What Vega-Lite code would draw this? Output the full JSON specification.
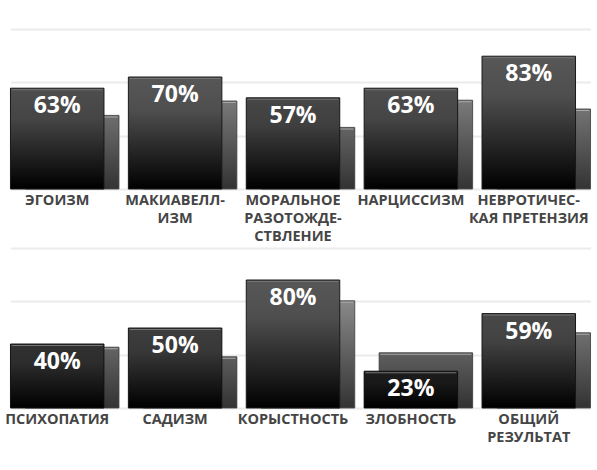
{
  "$schema": "https://vega.github.io/schema/vega-lite/v6.json",
  "padding": {"left": 4.5, "top": 29, "right": 0, "bottom": 0},
  "bounds": "flush",
  "spacing": 59,
  "background": "white",
  "data": {
    "values": [
      {"row": 1, "name": "ЭГОИЗМ", "value": 0.63, "compare": 0.46},
      {"row": 1, "name": "МАКИАВЕЛЛ-\nИЗМ", "value": 0.70, "compare": 0.55},
      {"row": 1, "name": "МОРАЛЬНОЕ\nРАЗОТОЖДЕ-\nСТВЛЕНИЕ", "value": 0.57, "compare": 0.385},
      {"row": 1, "name": "НАРЦИССИЗМ", "value": 0.63, "compare": 0.555},
      {"row": 1, "name": "НЕВРОТИЧЕС-\nКАЯ ПРЕТЕНЗИЯ", "value": 0.83, "compare": 0.50},
      {"row": 2, "name": "ПСИХОПАТИЯ", "value": 0.40, "compare": 0.38},
      {"row": 2, "name": "САДИЗМ", "value": 0.50, "compare": 0.32},
      {"row": 2, "name": "КОРЫСТНОСТЬ", "value": 0.80, "compare": 0.67},
      {"row": 2, "name": "ЗЛОБНОСТЬ", "value": 0.23, "compare": 0.345},
      {"row": 2, "name": "ОБЩИЙ\nРЕЗУЛЬТАТ", "value": 0.59, "compare": 0.47}
    ]
  },
  "vconcat": [
    {
      "width": 580,
      "height": 160,
      "transform": [{"filter": "datum.row == 1"}],
      "encoding": {
        "x": {
          "field": "name", "type": "nominal", "sort": null,
          "scale": {"paddingInner": 0.08, "paddingOuter": 0},
          "axis": {
            "title": null, "domain": false, "ticks": false, "labelAngle": 0,
            "labelFont": "Open Sans", "labelFontSize": 14.5, "labelFontWeight": "bold",
            "labelColor": "#454545", "labelLineHeight": 18, "labelPadding": 4,
            "labelOffset": -7.5, "labelLimit": 0, "labelOverlap": false, "labelBound": false,
            "labelExpr": "split(datum.label, '\\n')"
          }
        }
      },
      "layer": [
        {
          "mark": {"type": "bar", "width": 93.5, "xOffset": 7.5, "stroke": "#5c5c5c", "strokeWidth": 1,
            "fill": {"gradient": "linear", "x1": 0, "y1": 0, "x2": 0, "y2": 1,
              "stops": [{"offset": 0, "color": "#b4b4b4"}, {"offset": 1, "color": "#333333"}]}},
          "encoding": {
            "y": {"field": "compare", "type": "quantitative", "scale": {"domain": [0, 1], "nice": false},
              "axis": {"values": [0, 0.33333, 0.66667, 1], "grid": true, "gridColor": "#ebebeb", "gridWidth": 2,
                "labels": false, "ticks": false, "domain": false, "title": null}}
          }
        },
        {
          "mark": {"type": "bar", "width": 93.5, "xOffset": 7.5, "fill": "#333333"},
          "encoding": {
            "y": {"field": "compare", "type": "quantitative"},
            "opacity": {"field": "compare", "type": "quantitative", "scale": {"domain": [0, 1], "range": [1, 0]}, "legend": null}
          }
        },
        {
          "mark": {"type": "tick", "size": 91, "thickness": 1, "xOffset": 7.5, "yOffset": 1.5, "color": "#a8a8a8", "opacity": 1},
          "encoding": {"y": {"field": "compare", "type": "quantitative"}}
        },
        {
          "mark": {"type": "bar", "width": 93.5, "xOffset": -7.5, "stroke": "#1a1a1a", "strokeWidth": 1,
            "fill": {"gradient": "linear", "x1": 0, "y1": 0, "x2": 0, "y2": 1,
              "stops": [{"offset": 0, "color": "#575757"}, {"offset": 0.3, "color": "#4e4e4e"}, {"offset": 1, "color": "#000000"}]}},
          "encoding": {"y": {"field": "value", "type": "quantitative"}}
        },
        {
          "mark": {"type": "bar", "width": 93.5, "xOffset": -7.5, "fill": "#000000"},
          "encoding": {
            "y": {"field": "value", "type": "quantitative"},
            "fillOpacity": {"field": "value", "type": "quantitative", "scale": {"domain": [0, 0.7], "range": [1, 0], "clamp": true}, "legend": null}
          }
        },
        {
          "mark": {"type": "tick", "size": 91, "thickness": 1, "xOffset": -7.5, "yOffset": 1.5, "color": "#747474", "opacity": 1},
          "encoding": {"y": {"field": "value", "type": "quantitative"}}
        },
        {
          "mark": {"type": "text", "xOffset": -7.5, "dy": 25, "baseline": "alphabetic", "align": "center",
            "font": "Open Sans", "fontSize": 23, "fontWeight": "bold", "color": "white"},
          "encoding": {
            "y": {"field": "value", "type": "quantitative"},
            "text": {"field": "value", "type": "quantitative", "format": ".0%"}
          }
        }
      ]
    },
    {
      "width": 580,
      "height": 160,
      "transform": [{"filter": "datum.row == 2"}],
      "encoding": {
        "x": {
          "field": "name", "type": "nominal", "sort": null,
          "scale": {"paddingInner": 0.08, "paddingOuter": 0},
          "axis": {
            "title": null, "domain": false, "ticks": false, "labelAngle": 0,
            "labelFont": "Open Sans", "labelFontSize": 14.5, "labelFontWeight": "bold",
            "labelColor": "#454545", "labelLineHeight": 18, "labelPadding": 4,
            "labelOffset": -7.5, "labelLimit": 0, "labelOverlap": false, "labelBound": false,
            "labelExpr": "split(datum.label, '\\n')"
          }
        }
      },
      "layer": [
        {
          "mark": {"type": "bar", "width": 93.5, "xOffset": 7.5, "stroke": "#5c5c5c", "strokeWidth": 1,
            "fill": {"gradient": "linear", "x1": 0, "y1": 0, "x2": 0, "y2": 1,
              "stops": [{"offset": 0, "color": "#b4b4b4"}, {"offset": 1, "color": "#333333"}]}},
          "encoding": {
            "y": {"field": "compare", "type": "quantitative", "scale": {"domain": [0, 1], "nice": false},
              "axis": {"values": [0, 0.33333, 0.66667, 1], "grid": true, "gridColor": "#ebebeb", "gridWidth": 2,
                "labels": false, "ticks": false, "domain": false, "title": null}}
          }
        },
        {
          "mark": {"type": "bar", "width": 93.5, "xOffset": 7.5, "fill": "#333333"},
          "encoding": {
            "y": {"field": "compare", "type": "quantitative"},
            "opacity": {"field": "compare", "type": "quantitative", "scale": {"domain": [0, 1], "range": [1, 0]}, "legend": null}
          }
        },
        {
          "mark": {"type": "tick", "size": 91, "thickness": 1, "xOffset": 7.5, "yOffset": 1.5, "color": "#a8a8a8", "opacity": 1},
          "encoding": {"y": {"field": "compare", "type": "quantitative"}}
        },
        {
          "mark": {"type": "bar", "width": 93.5, "xOffset": -7.5, "stroke": "#1a1a1a", "strokeWidth": 1,
            "fill": {"gradient": "linear", "x1": 0, "y1": 0, "x2": 0, "y2": 1,
              "stops": [{"offset": 0, "color": "#575757"}, {"offset": 0.3, "color": "#4e4e4e"}, {"offset": 1, "color": "#000000"}]}},
          "encoding": {"y": {"field": "value", "type": "quantitative"}}
        },
        {
          "mark": {"type": "bar", "width": 93.5, "xOffset": -7.5, "fill": "#000000"},
          "encoding": {
            "y": {"field": "value", "type": "quantitative"},
            "fillOpacity": {"field": "value", "type": "quantitative", "scale": {"domain": [0, 0.7], "range": [1, 0], "clamp": true}, "legend": null}
          }
        },
        {
          "mark": {"type": "tick", "size": 91, "thickness": 1, "xOffset": -7.5, "yOffset": 1.5, "color": "#747474", "opacity": 1},
          "encoding": {"y": {"field": "value", "type": "quantitative"}}
        },
        {
          "mark": {"type": "text", "xOffset": -7.5, "dy": 25, "baseline": "alphabetic", "align": "center",
            "font": "Open Sans", "fontSize": 23, "fontWeight": "bold", "color": "white"},
          "encoding": {
            "y": {"field": "value", "type": "quantitative"},
            "text": {"field": "value", "type": "quantitative", "format": ".0%"}
          }
        }
      ]
    }
  ],
  "config": {"view": {"stroke": null}}
}
